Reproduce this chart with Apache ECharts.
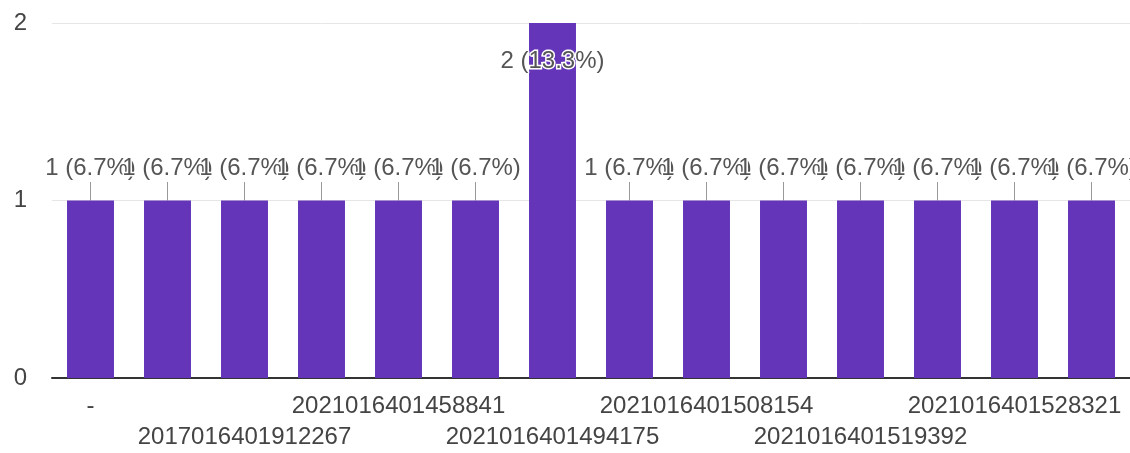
<!DOCTYPE html>
<html>
<head>
<meta charset="utf-8">
<script src="https://cdn.jsdelivr.net/npm/echarts@6/dist/echarts.min.js"></script>
<style>html,body{margin:0;padding:0;background:#fff;}#c{width:1130px;height:453px;}</style>
</head>
<body>
<div id="c"></div>
<script>
const categories = [
  "-", "2017016401908135", "2017016401912267", "2021016401452276",
  "2021016401458841", "2021016401487530", "2021016401494175", "2021016401501963",
  "2021016401508154", "2021016401513847", "2021016401519392", "2021016401524618",
  "2021016401528321", "2021016401533074"
];
const counts = [1, 1, 1, 1, 1, 1, 2, 1, 1, 1, 1, 1, 1, 1];
const percents = ["6.7", "6.7", "6.7", "6.7", "6.7", "6.7", "13.3", "6.7", "6.7", "6.7", "6.7", "6.7", "6.7", "6.7"];
const yTicks = [0, 1, 2];

const chart = echarts.init(document.getElementById('c'));
const font = '"Liberation Sans", Arial, sans-serif';
chart.setOption({
  animation: false,
  grid: { left: 52, right: -3, top: 23, bottom: 73 },
  xAxis: {
    type: 'category',
    data: categories,
    axisTick: { show: false },
    axisLine: { lineStyle: { color: '#333', width: 2 } },
    axisLabel: {
      interval: 0,
      margin: 13,
      fontSize: 24,
      lineHeight: 31,
      color: '#444',
      fontFamily: font,
      formatter: function (v, i) {
        if (i % 2 === 1) return '';
        return (i % 4 === 2) ? '\n' + v : v;
      }
    }
  },
  yAxis: {
    type: 'value',
    min: yTicks[0],
    max: yTicks[yTicks.length - 1],
    interval: 1,
    axisLine: { show: false },
    axisTick: { show: false },
    splitLine: { lineStyle: { color: '#e6e6e6', width: 1 } },
    axisLabel: { margin: 25, fontSize: 24, color: '#444', fontFamily: font }
  },
  series: [{
    type: 'bar',
    data: counts,
    barCategoryGap: '39%',
    itemStyle: { color: '#6435b9' },
    label: {
      show: true,
      position: 'top',
      distance: 2,
      fontSize: 24,
      color: '#555',
      fontFamily: font,
      textBorderColor: '#fff',
      textBorderWidth: 3,
      formatter: function (p) { return counts[p.dataIndex] + ' (' + percents[p.dataIndex] + '%)'; }
    },
    labelLayout: function (p) {
      return p.dataIndex === 6 ? { dy: 52 } : { dy: -18 };
    },
    labelLine: { show: true, lineStyle: { color: '#999', width: 1 } }
  }]
});
</script>
</body>
</html>
